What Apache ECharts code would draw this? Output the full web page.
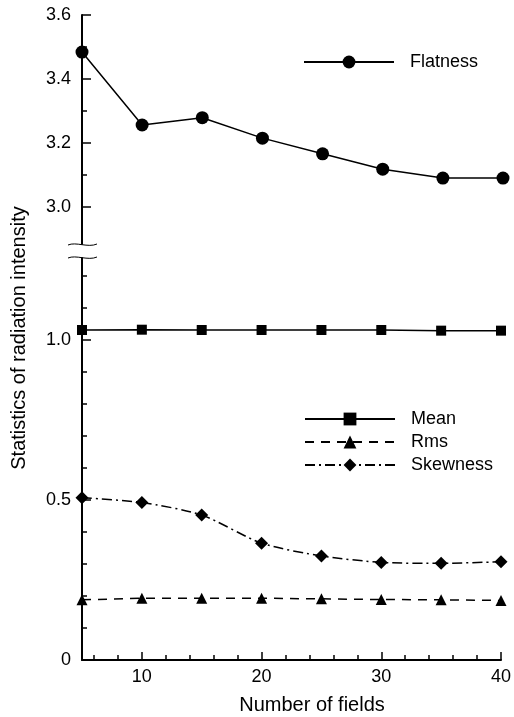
<!DOCTYPE html>
<html>
<head>
<meta charset="utf-8">
<script src="https://cdn.jsdelivr.net/npm/echarts@6/dist/echarts.min.js"></script>
<style>
html,body{margin:0;padding:0;background:#fff;}
#chart{width:514px;height:717px;}
</style>
</head>
<body>
<div id="chart"></div>
<script>
// ---- data ----
const fields = [5, 10, 15, 20, 25, 30, 35, 40];
const flatness = [3.484, 3.256, 3.279, 3.215, 3.166, 3.118, 3.090, 3.090];
const mean = [1.031, 1.032, 1.031, 1.031, 1.031, 1.031, 1.029, 1.029];
const rms = [0.188, 0.193, 0.193, 0.193, 0.191, 0.189, 0.188, 0.186];
const skewness = [0.507, 0.492, 0.453, 0.365, 0.325, 0.305, 0.302, 0.307];

// ---- ticks ----
const upperLabels = [3.0, 3.2, 3.4, 3.6];
const upperMinor = [3.1, 3.3, 3.5];
const lowerLabels = [0, 0.5, 1.0];
const lowerMinor = [0.1, 0.2, 0.3, 0.4, 0.6, 0.7, 0.8, 0.9, 1.1, 1.2];
const xLabels = [10, 20, 30, 40];
const xMinor = [6, 8, 12, 14, 16, 18, 22, 24, 26, 28, 32, 34, 36, 38];

const xTitle = 'Number of fields';
const yTitle = 'Statistics of radiation intensity';

const FONT = "'Liberation Sans', Arial, sans-serif";
const pairs = (vals) => fields.map((f, i) => [f, vals[i]]);

// layout
const L = 82, R = 11;
const upTop = 15, upH = 229;
const loTop = 258, loBottom = 57;

const axisLine = { show: true, onZero: false, lineStyle: { color: '#000', width: 2 } };
const noLine = { show: false, onZero: false };
const lbl = (vals, fmt) => ({ show: true, customValues: vals, formatter: fmt, color: '#000', fontSize: 18, fontFamily: FONT, margin: 11 });
const tick = (vals, len) => ({ show: true, inside: true, customValues: vals, length: len, lineStyle: { color: '#000', width: 1.5 } });

const chart = echarts.init(document.getElementById('chart'), null, { renderer: 'canvas' });

const option = {
  backgroundColor: '#fff',
  animation: false,
  grid: [
    { left: L, right: R, top: upTop, height: upH },
    { left: L, right: R, top: loTop, bottom: loBottom }
  ],
  xAxis: [
    { type: 'value', gridIndex: 0, min: 5, max: 40, show: false },
    { type: 'value', gridIndex: 1, min: 5, max: 40, position: 'bottom',
      axisLine: axisLine, axisTick: tick(xLabels, 8),
      axisLabel: Object.assign(lbl(xLabels, v => String(v)), { margin: 8 }),
      splitLine: { show: false } },
    { type: 'value', gridIndex: 1, min: 5, max: 40, position: 'bottom',
      axisLine: noLine, axisTick: tick(xMinor, 5), axisLabel: { show: false }, splitLine: { show: false } }
  ],
  yAxis: [
    { type: 'value', gridIndex: 0, min: 2.884, max: 3.6, position: 'left',
      axisLine: axisLine, axisTick: tick(upperLabels, 9),
      axisLabel: lbl(upperLabels, v => v.toFixed(1)), splitLine: { show: false } },
    { type: 'value', gridIndex: 0, min: 2.884, max: 3.6, position: 'left',
      axisLine: noLine, axisTick: tick(upperMinor, 5), axisLabel: { show: false }, splitLine: { show: false } },
    { type: 'value', gridIndex: 1, min: 0, max: 1.256, position: 'left',
      axisLine: axisLine, axisTick: tick(lowerLabels, 9),
      axisLabel: lbl(lowerLabels, v => v === 0 ? '0' : v.toFixed(1)), splitLine: { show: false } },
    { type: 'value', gridIndex: 1, min: 0, max: 1.256, position: 'left',
      axisLine: noLine, axisTick: tick(lowerMinor, 5), axisLabel: { show: false }, splitLine: { show: false } }
  ],
  legend: [
    { data: ['Flatness'], left: 298, top: 48, itemWidth: 90, itemHeight: 16,
      textStyle: { color: '#000', fontSize: 18, fontFamily: FONT, padding: [0, 0, 0, 11] } },
    { data: ['Mean', 'Rms', 'Skewness'], orient: 'vertical', left: 299, top: 405, itemWidth: 90, itemHeight: 16, itemGap: 5,
      textStyle: { color: '#000', fontSize: 18, fontFamily: FONT, padding: [0, 0, 0, 11] } }
  ],
  series: [
    { name: 'Flatness', type: 'line', xAxisIndex: 0, yAxisIndex: 0, data: pairs(flatness), clip: false,
      symbol: 'circle', symbolSize: 13, color: '#000',
      itemStyle: { color: '#000' }, lineStyle: { color: '#000', width: 1.5 } },
    { name: 'Mean', type: 'line', xAxisIndex: 1, yAxisIndex: 2, data: pairs(mean), clip: false,
      symbol: 'rect', symbolSize: 10, color: '#000',
      itemStyle: { color: '#000' }, lineStyle: { color: '#000', width: 1.5 } },
    { name: 'Rms', type: 'line', xAxisIndex: 1, yAxisIndex: 2, data: pairs(rms), clip: false,
      symbol: 'triangle', symbolSize: 11, color: '#000',
      itemStyle: { color: '#000' }, lineStyle: { color: '#000', width: 1.5, type: [9, 7] } },
    { name: 'Skewness', type: 'line', xAxisIndex: 1, yAxisIndex: 2, data: pairs(skewness), clip: false,
      symbol: 'diamond', symbolSize: 13, smooth: 0.25, color: '#000',
      itemStyle: { color: '#000' }, lineStyle: { color: '#000', width: 1.5, type: [10, 4, 2, 4] } }
  ],
  graphic: [
    { type: 'bezierCurve', shape: { x1: 68, y1: 245, cpx1: 76, cpy1: 241.5, cpx2: 88, cpy2: 248, x2: 97, y2: 244 },
      style: { stroke: '#000', lineWidth: 1, fill: null } },
    { type: 'bezierCurve', shape: { x1: 68, y1: 258, cpx1: 76, cpy1: 254.5, cpx2: 88, cpy2: 261, x2: 97, y2: 257 },
      style: { stroke: '#000', lineWidth: 1, fill: null } },
    { type: 'text', x: 19, y: 338, rotation: Math.PI / 2,
      style: { text: yTitle, fill: '#000', font: '20px ' + FONT, align: 'center', verticalAlign: 'middle' } },
    { type: 'text', x: 312, y: 705,
      style: { text: xTitle, fill: '#000', font: '20px ' + FONT, align: 'center', verticalAlign: 'middle' } }
  ]
};
chart.setOption(option);
</script>
</body>
</html>
